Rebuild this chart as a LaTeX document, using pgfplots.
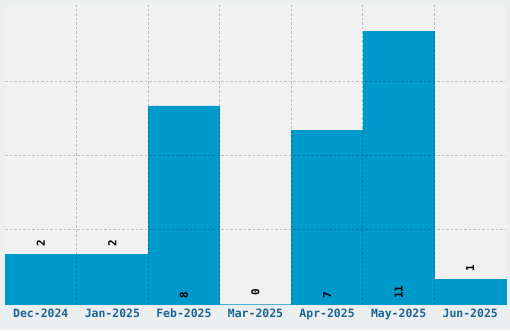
\documentclass[border=0pt]{standalone}
\usepackage{pgfplots}
\pgfplotsset{compat=1.18}
\usepackage{fontspec}
\setmonofont{DejaVu Sans Mono}
\definecolor{outerbg}{HTML}{ECEFF0}
\definecolor{plotbg}{HTML}{F1F1F1}
\definecolor{barblue}{HTML}{0099CC}
\definecolor{ticklab}{HTML}{1A6496}
\begin{document}
\begin{tikzpicture}[x=1bp,y=1bp]
\fill[outerbg] (0,0) rectangle (510,330);
\useasboundingbox (0,0) rectangle (510,330);
\begin{axis}[
  at={(5bp,26bp)}, anchor=south west,
  width=501bp, height=299bp, scale only axis,
  xmin=-0.5, xmax=6.5, ymin=0, ymax=12.08,
  axis background/.style={fill=plotbg},
  axis line style={draw=none},
  tick style={draw=none},
  xtick={0,1,2,3,4,5,6},
  xticklabels={Dec-2024,Jan-2025,Feb-2025,Mar-2025,Apr-2025,May-2025,Jun-2025},
  minor xtick={0.5,1.5,2.5,3.5,4.5,5.5},
  xminorgrids=true,
  ytick={3,6,9}, yticklabels={},
  ymajorgrids=true,
  grid style={black, opacity=0.2, line width=0.8bp, dash pattern=on 2.5bp off 2bp},
  minor grid style={black, opacity=0.2, line width=0.8bp, dash pattern=on 2.5bp off 2bp},
  axis on top,
  xticklabel style={font=\ttfamily\bfseries\fontsize{11.5}{12}\selectfont, text=ticklab, yshift=-1.5bp},
  clip=false,
]
\addplot[ybar, bar width=1, fill=barblue, draw=barblue, line width=0.5bp] coordinates {
  (0,2) (1,2) (2,8) (3,0) (4,7) (5,11) (6,1)
};
\addplot[draw=none, mark=none, nodes near coords, point meta=explicit symbolic,
  nodes near coords style={rotate=90, anchor=west, inner sep=0pt, text=black,
    font=\ttfamily\bfseries\fontsize{11}{11}\selectfont}] coordinates {
  (0,2.32)[2] (1,2.32)[2] (2,0.2)[8] (3,0.32)[0] (4,0.2)[7] (5,0.2)[11] (6,1.32)[1]
};
\end{axis}
\end{tikzpicture}
\end{document}
